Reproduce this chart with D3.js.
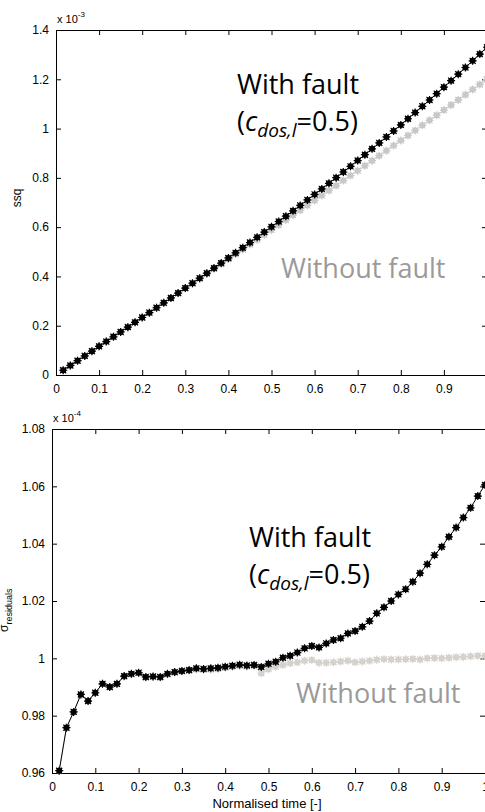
<!DOCTYPE html>
<html>
<head>
<meta charset="utf-8">
<script src="https://cdn.jsdelivr.net/npm/d3@7"></script>
<style>
  body { margin: 0; background: #fff; }
  svg text { font-family: "Liberation Sans", Arial, sans-serif; }
  .note { font-family: "Open Sans", sans-serif; }
</style>
</head>
<body>
<div id="chart"></div>
<script>
// genormaliseerde tijd: 60 meetpunten, i/60
const tijd = d3.range(1, 61).map(i => i / 60);

// bovenste grafiek: ssq (x 10^-3)
const ssq_met_fout = [
  0.0193, 0.0387, 0.0580, 0.0774, 0.0968, 0.1162, 0.1356, 0.1551, 0.1746, 0.1941,
  0.2137, 0.2334, 0.2531, 0.2728, 0.2927, 0.3126, 0.3325, 0.3526, 0.3727, 0.3930,
  0.4133, 0.4337, 0.4542, 0.4749, 0.4956, 0.5165, 0.5375, 0.5586, 0.5799, 0.6013,
  0.6228, 0.6445, 0.6663, 0.6883, 0.7104, 0.7327, 0.7552, 0.7778, 0.8007, 0.8237,
  0.8469, 0.8703, 0.8939, 0.9177, 0.9417, 0.9659, 0.9904, 1.0150, 1.0399, 1.0650,
  1.0904, 1.1160, 1.1418, 1.1679, 1.1943, 1.2209, 1.2478, 1.2749, 1.3023, 1.3300];
const ssq_zonder_fout = [
  0.0195, 0.0390, 0.0585, 0.0780, 0.0975, 0.1170, 0.1365, 0.1561, 0.1756, 0.1951,
  0.2147, 0.2342, 0.2538, 0.2734, 0.2930, 0.3126, 0.3322, 0.3518, 0.3714, 0.3911,
  0.4108, 0.4305, 0.4502, 0.4699, 0.4897, 0.5094, 0.5292, 0.5490, 0.5689, 0.5888,
  0.6087, 0.6286, 0.6485, 0.6685, 0.6885, 0.7085, 0.7285, 0.7486, 0.7687, 0.7889,
  0.8091, 0.8293, 0.8496, 0.8699, 0.8902, 0.9105, 0.9309, 0.9514, 0.9719, 0.9924,
  1.0130, 1.0335, 1.0542, 1.0749, 1.0956, 1.1164, 1.1372, 1.1581, 1.1790, 1.2000];

// onderste grafiek: sigma residuals (x 10^-4)
const sigma_met_fout = [
  0.9608, 0.9758, 0.9813, 0.9874, 0.9851, 0.9880, 0.9911, 0.9900, 0.9911, 0.9938,
  0.9946, 0.9950, 0.9935, 0.9937, 0.9935, 0.9946, 0.9952, 0.9956, 0.9959, 0.9965,
  0.9963, 0.9965, 0.9967, 0.9971, 0.9974, 0.9978, 0.9975, 0.9977, 0.9970, 0.9981,
  0.9988, 1.0002, 1.0009, 1.0020, 1.0035, 1.0043, 1.0038, 1.0052, 1.0064, 1.0070,
  1.0087, 1.0095, 1.0110, 1.0130, 1.0157, 1.0178, 1.0200, 1.0223, 1.0241, 1.0267,
  1.0297, 1.0328, 1.0360, 1.0389, 1.0424, 1.0456, 1.0491, 1.0525, 1.0566, 1.0605];
const sigma_zonder_fout = [
  0.9608, 0.9758, 0.9813, 0.9874, 0.9851, 0.9880, 0.9911, 0.9900, 0.9911, 0.9936,
  0.9944, 0.9948, 0.9933, 0.9935, 0.9933, 0.9944, 0.9950, 0.9954, 0.9957, 0.9962,
  0.9960, 0.9961, 0.9963, 0.9967, 0.9970, 0.9974, 0.9971, 0.9973, 0.9948, 0.9962,
  0.9971, 0.9977, 0.9983, 0.9986, 0.9992, 0.9994, 0.9985, 0.9985, 0.9986, 0.9989,
  0.9992, 0.9986, 0.9989, 0.9992, 0.9995, 0.9997, 0.9996, 0.9996, 0.9997, 0.9998,
  0.9996, 1.0000, 1.0001, 1.0000, 1.0002, 1.0004, 1.0005, 1.0007, 1.0009, 1.0009];

const x_ticks = [0, 0.1, 0.2, 0.3, 0.4, 0.5, 0.6, 0.7, 0.8, 0.9, 1];
const ssq_ticks = [0, 0.2, 0.4, 0.6, 0.8, 1, 1.2, 1.4];
const sigma_ticks = [0.96, 0.98, 1, 1.02, 1.04, 1.06, 1.08];

const breedte = 485, hoogte = 812;
const svg = d3.select("#chart").append("svg")
  .attr("width", breedte).attr("height", hoogte);

function teken_marker(g, kleur) {
  g.append("circle").attr("r", 3).attr("fill", kleur);
  g.append("path")
    .attr("d", "M-4,0H4M0,-4V4M-3,-3L3,3M-3,3L3,-3")
    .attr("stroke", kleur).attr("stroke-width", 1.2);
}

function paneel(opt) {
  const x = d3.scaleLinear().domain([0, 1]).range(opt.xr);
  const y = d3.scaleLinear().domain(opt.yd).range(opt.yr);
  const fmt = d => d3.format("~g")(+d.toFixed(2));
  const xfmt = d => (d === 1 && !opt.toon_een) ? "" : fmt(d);
  const g = svg.append("g");

  const as = (a, t) => {
    const ag = g.append("g").attr("transform", t).call(a);
    ag.selectAll("text").style("font-size", "12px").attr("fill", "#000");
    ag.select(".domain").attr("stroke", "#000");
    ag.selectAll(".tick line").attr("stroke", "#000");
    return ag;
  };
  as(d3.axisBottom(x).tickValues(x_ticks).tickFormat(xfmt).tickSizeInner(-5).tickSizeOuter(0).tickPadding(9),
    `translate(0,${opt.yr[0]})`);
  as(d3.axisTop(x).tickValues(x_ticks).tickFormat("").tickSizeInner(-5).tickSizeOuter(0),
    `translate(0,${opt.yr[1]})`);
  as(d3.axisLeft(y).tickValues(opt.yt).tickFormat(fmt).tickSizeInner(-5).tickSizeOuter(0).tickPadding(7),
    `translate(${opt.xr[0]},0)`);
  as(d3.axisRight(y).tickValues(opt.yt).tickFormat("").tickSizeInner(-5).tickSizeOuter(0),
    `translate(${opt.xr[1]},0)`);

  const lijn = d3.line().x((d, i) => x(tijd[i])).y(d => y(d));
  [[opt.zonder, opt.grijs], [opt.met, "#000"]].forEach(([reeks, kleur]) => {
    g.append("path").datum(reeks).attr("d", lijn)
      .attr("fill", "none").attr("stroke", kleur).attr("stroke-width", 1);
    g.selectAll(null).data(reeks).enter().append("g")
      .attr("transform", (d, i) => `translate(${x(tijd[i])},${y(d)})`)
      .each(function () { teken_marker(d3.select(this), kleur); });
  });

  // vermenigvuldiger boven de as
  const m = g.append("text").attr("x", opt.xr[0] + 1).attr("y", opt.yr[1] - 7)
    .style("font-size", "11px");
  m.append("tspan").text("x 10");
  m.append("tspan").attr("dy", -6).style("font-size", "8px").text(opt.macht);
  return { x, y, g };
}

paneel({
  xr: [56, 487], yr: [375, 30], yd: [0, 1.4], yt: ssq_ticks, toon_een: false,
  met: ssq_met_fout, zonder: ssq_zonder_fout, grijs: "#c8c8c8", macht: "-3"
});
paneel({
  xr: [52, 485], yr: [773, 429], yd: [0.96, 1.08], yt: sigma_ticks, toon_een: true,
  met: sigma_met_fout, zonder: sigma_zonder_fout, grijs: "#d5d2cd", macht: "-4"
});

// as-titels
svg.append("text").attr("transform", "translate(21,198) rotate(-90)")
  .attr("text-anchor", "middle").style("font-size", "12px").text("ssq");
const sig = svg.append("text").attr("transform", "translate(8,632) rotate(-90)");
sig.append("tspan").style("font-size", "12px").text("σ");
sig.append("tspan").attr("dy", 4).style("font-size", "9px").text("residuals");
svg.append("text").attr("x", 267).attr("y", 808).attr("text-anchor", "middle")
  .style("font-size", "13px").text("Normalised time [-]");

// annotaties
function met_fout(x0, y0) {
  svg.append("text").attr("class", "note").attr("x", x0).attr("y", y0)
    .style("font-size", "27px").attr("fill", "#000").text("With fault");
  const t = svg.append("text").attr("class", "note").attr("x", x0).attr("y", y0 + 37)
    .style("font-size", "27px").attr("fill", "#000");
  t.append("tspan").text("(");
  t.append("tspan").style("font-style", "italic").text("c");
  t.append("tspan").attr("dy", 6).style("font-style", "italic").style("font-size", "19px").text("dos,l");
  t.append("tspan").attr("dy", -6).text("=0.5)");
}
function zonder_fout(x0, y0) {
  svg.append("text").attr("class", "note").attr("x", x0).attr("y", y0)
    .style("font-size", "27px").attr("fill", "#9a9a9a").text("Without fault");
}
met_fout(237, 94);
zonder_fout(281, 278);
met_fout(249, 547);
zonder_fout(296, 703);
</script>
</body>
</html>
